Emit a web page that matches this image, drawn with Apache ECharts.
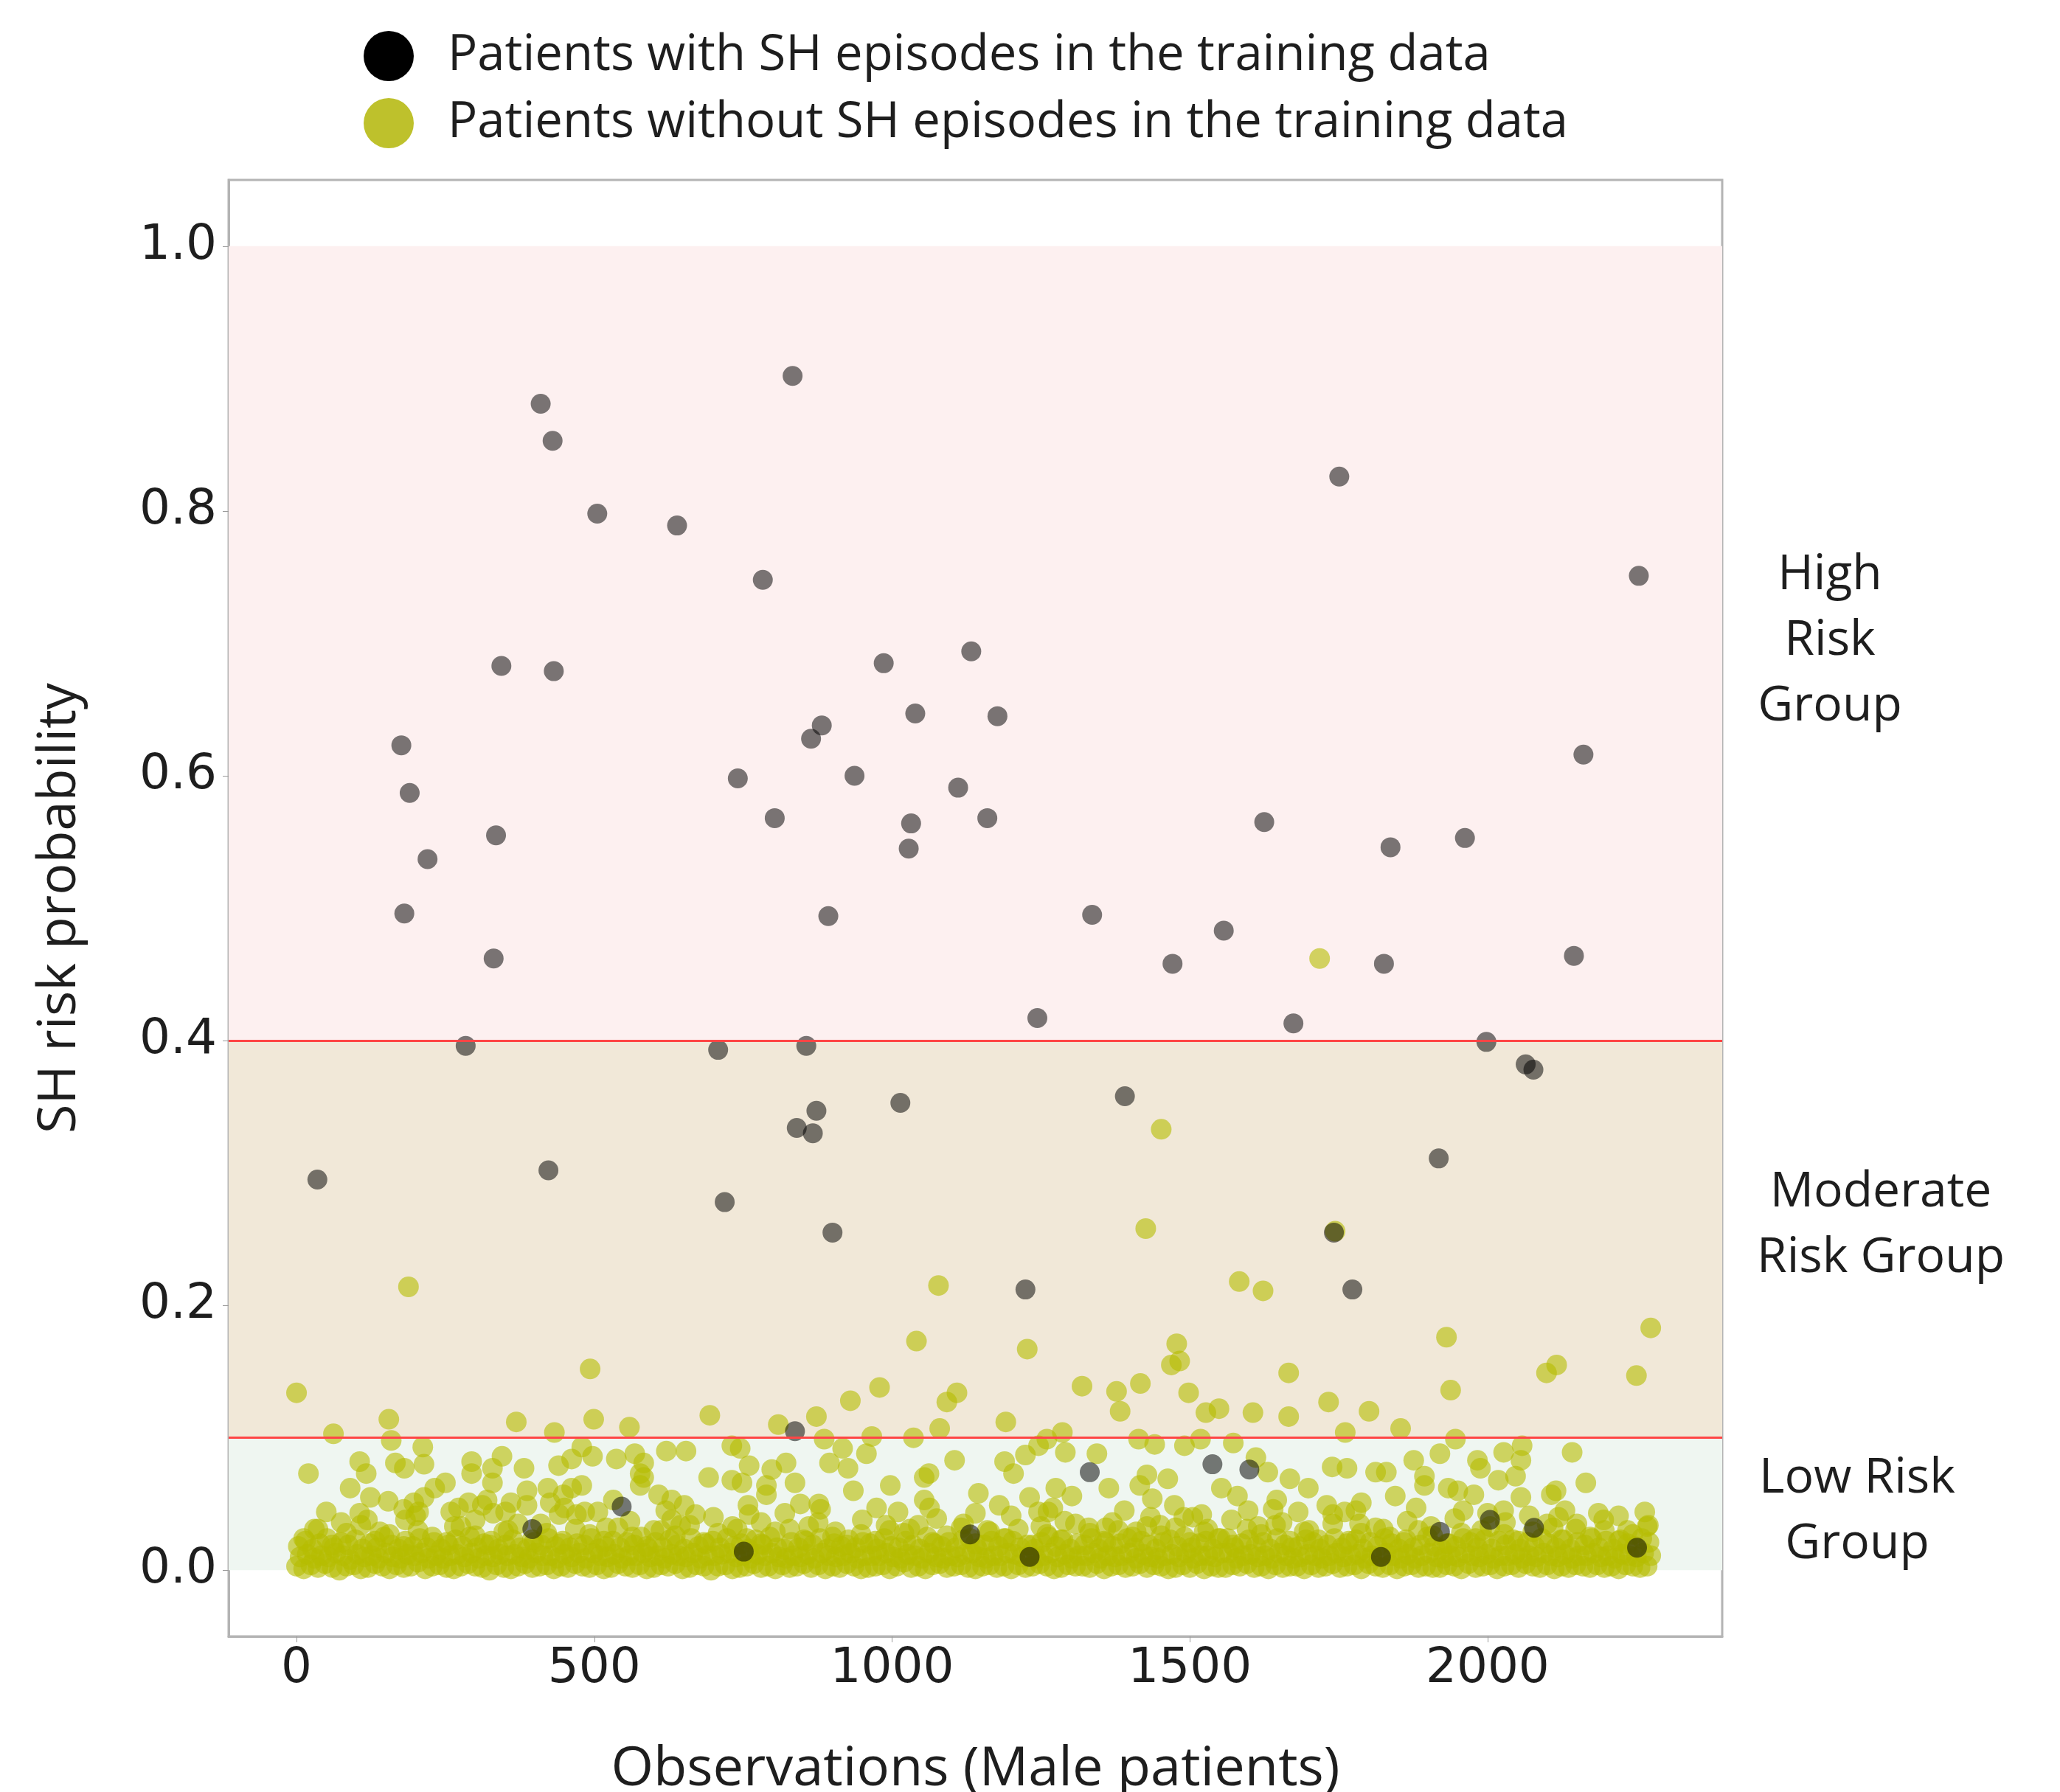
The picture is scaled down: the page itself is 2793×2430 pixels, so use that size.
<!DOCTYPE html>
<html>
<head>
<meta charset="utf-8">
<title>SH risk probability - male patients</title>
<script src="https://cdn.jsdelivr.net/npm/echarts@6/dist/echarts.min.js"></script>
<style>
    html, body { margin: 0; padding: 0; background: #fff; }
    #chart { width: 2793px; height: 2430px; }
</style>
</head>
<body>
<div id="chart"></div>
<script>
// 图例名称
var nameSH = 'Patients with SH episodes in the training data';
var nameNo = 'Patients without SH episodes in the training data';

// 坐标轴刻度
var xTicks = [0, 500, 1000, 1500, 2000];
var yTicks = [0, 0.2, 0.4, 0.6, 0.8, 1.0];
// 风险分组阈值
var lowCut = 0.1;
var highCut = 0.4;

// patients with SH episodes (observation index, probability)
var shX = [35, 176, 190, 220, 181, 284, 335, 331, 344, 410, 430, 432, 423, 505, 639, 783, 833, 741, 803, 708,
    719, 864, 882, 937, 893, 856, 840, 867, 873, 900, 986, 1039, 1032, 1028, 1014, 1111, 1133, 1177, 1160, 1244,
    1224, 1336, 1391, 1471, 1557, 1625, 1674, 1751, 1742, 1773, 1837, 1826, 1918, 1962, 1998, 2064, 2077, 2145, 2161, 2254,
    837, 1332, 1538, 1600, 546, 396, 751, 1131, 1231, 1920, 2004, 2078, 1821, 2251];
var shY = [0.295, 0.623, 0.587, 0.537, 0.496, 0.396, 0.555, 0.462, 0.683, 0.881, 0.853, 0.679, 0.302, 0.798, 0.789, 0.748, 0.902, 0.598, 0.568, 0.393,
    0.278, 0.628, 0.638, 0.600, 0.494, 0.396, 0.334, 0.330, 0.347, 0.255, 0.685, 0.647, 0.564, 0.545, 0.353, 0.591, 0.694, 0.645, 0.568, 0.417,
    0.212, 0.495, 0.358, 0.458, 0.483, 0.565, 0.413, 0.826, 0.255, 0.212, 0.546, 0.458, 0.311, 0.553, 0.399, 0.382, 0.378, 0.464, 0.616, 0.751,
    0.105, 0.074, 0.080, 0.076, 0.048, 0.031, 0.014, 0.027, 0.010, 0.029, 0.038, 0.032, 0.010, 0.017];

// patients without SH episodes, above the low-risk cut
var noHiX = [1718, 1452, 1426, 188, 1078, 1583, 1623, 1744, 2274, 1931, 1041, 1227, 1478, 493, 2099, 2116, 2250, 1666, 1469, 1483,
    0, 1319, 1377, 1417, 1498, 1938, 979, 930, 1109, 1092, 1733, 1383, 1527, 1549, 1606, 1666, 1801, 694, 873, 1191,
    155, 369, 499, 559, 809, 1080, 1854, 62, 433, 1286, 1761, 159, 886, 966, 1036, 1260, 1946, 1414, 1518];
var noHiY = [0.462, 0.333, 0.258, 0.214, 0.215, 0.218, 0.211, 0.256, 0.183, 0.176, 0.173, 0.167, 0.171, 0.152, 0.149, 0.155, 0.147, 0.149, 0.155, 0.158,
    0.134, 0.139, 0.135, 0.141, 0.134, 0.136, 0.138, 0.128, 0.134, 0.127, 0.127, 0.120, 0.119, 0.122, 0.119, 0.116, 0.120, 0.117, 0.116, 0.112,
    0.114, 0.112, 0.114, 0.108, 0.110, 0.107, 0.107, 0.103, 0.104, 0.104, 0.104, 0.098, 0.099, 0.101, 0.100, 0.099, 0.099, 0.099, 0.099];

// patients without SH episodes, scattered in the low-risk band
var noLowX = [212, 20, 106, 117, 90, 124, 154, 166, 181, 214, 106, 119, 197, 250, 232, 214, 294, 294, 345, 329,
    382, 329, 289, 272, 320, 387, 387, 422, 440, 462, 479, 497, 537, 568, 577, 577, 462, 479, 448, 426,
    441, 532, 312, 351, 360, 259, 183, 205, 484, 506,
    621, 654, 583, 583, 731, 745, 760, 798, 822, 692, 731, 748, 789, 837, 789, 758, 846, 877, 608, 630,
    651, 670, 630, 895, 917, 926, 957, 935, 997, 974, 1054, 1062, 1054, 1105, 1145, 1180, 1189, 1204, 1224, 1231,
    1246, 1246, 1063,
    1291, 1344, 1441, 1491, 1573, 1611, 1631, 1668, 1739, 1764, 1812, 1830, 1876, 1894, 1920, 1428, 1463, 1275, 1302, 1364,
    1416, 1437, 1474, 1553, 1580, 1598, 1646, 1699, 1730, 1788, 1845, 1894, 1934, 1359, 1434, 1505, 1682, 1779, 1262,
    2027, 2058, 2056, 1983, 1988, 2018, 2047, 2142, 2165, 2115, 2107, 2056, 1950, 1977, 2264, 2186, 2027, 1959, 2119];
var noLowY = [0.093, 0.073, 0.082, 0.073, 0.062, 0.055, 0.052, 0.081, 0.077, 0.080, 0.043, 0.038, 0.051, 0.066, 0.062, 0.055, 0.082, 0.073, 0.086, 0.077,
    0.077, 0.066, 0.051, 0.047, 0.053, 0.060, 0.049, 0.062, 0.079, 0.084, 0.093, 0.086, 0.084, 0.088, 0.073, 0.064, 0.062, 0.064, 0.057, 0.051,
    0.042, 0.053, 0.049, 0.044, 0.051, 0.044, 0.038, 0.044, 0.044, 0.044,
    0.090, 0.090, 0.081, 0.070, 0.094, 0.092, 0.079, 0.076, 0.081, 0.070, 0.068, 0.066, 0.064, 0.066, 0.057, 0.049, 0.050, 0.050, 0.057, 0.053,
    0.049, 0.042, 0.038, 0.081, 0.092, 0.077, 0.088, 0.060, 0.064, 0.047, 0.070, 0.073, 0.053, 0.083, 0.058, 0.049, 0.082, 0.073, 0.087, 0.055,
    0.094, 0.044, 0.047,
    0.089, 0.088, 0.095, 0.094, 0.096, 0.085, 0.074, 0.069, 0.078, 0.077, 0.074, 0.074, 0.083, 0.071, 0.088, 0.072, 0.069, 0.062, 0.056, 0.062,
    0.064, 0.054, 0.049, 0.062, 0.056, 0.045, 0.053, 0.062, 0.049, 0.051, 0.056, 0.064, 0.062, 0.032, 0.040, 0.040, 0.044, 0.045, 0.044,
    0.089, 0.094, 0.083, 0.083, 0.077, 0.068, 0.071, 0.089, 0.066, 0.060, 0.057, 0.055, 0.060, 0.057, 0.044, 0.043, 0.045, 0.045, 0.040];

// just above the dense band (0.03 - 0.045)
var noEdgeX = [30, 75, 140, 200, 265, 300, 355, 410, 470, 520, 560, 600, 645, 700, 740, 780, 820, 860, 905, 950,
    990, 1030, 1075, 1120, 1160, 1200, 1250, 1290, 1330, 1370, 1410, 1450, 1490, 1530, 1570, 1615, 1655, 1700, 1740, 1785,
    1825, 1865, 1905, 1945, 1990, 2030, 2070, 2110, 2150, 2195, 2235, 2270, 50, 180, 330, 450, 620, 760, 880, 1010,
    1140, 1270, 1390, 1520, 1640, 1760, 1880, 2000, 2130, 2220];
var noEdgeY = [0.031, 0.036, 0.029, 0.041, 0.033, 0.038, 0.030, 0.035, 0.042, 0.032, 0.037, 0.030, 0.034, 0.040, 0.031, 0.036, 0.043, 0.033, 0.029, 0.038,
    0.034, 0.031, 0.039, 0.035, 0.030, 0.041, 0.033, 0.037, 0.032, 0.036, 0.029, 0.034, 0.040, 0.031, 0.038, 0.033, 0.036, 0.030, 0.042, 0.035,
    0.031, 0.037, 0.033, 0.039, 0.030, 0.036, 0.041, 0.032, 0.035, 0.038, 0.030, 0.034, 0.044, 0.046, 0.043, 0.047, 0.045, 0.042, 0.046, 0.044,
    0.043, 0.047, 0.045, 0.042, 0.046, 0.044, 0.047, 0.043, 0.045, 0.041];

// dense band near zero: one value per sampled observation
var baseStep = 12;
var baseLowY = [
    0.003, 0.001, 0.004, 0.002, 0.005, 0.002, 0.000, 0.003, 0.004, 0.001,
    0.002, 0.005, 0.003, 0.001, 0.004, 0.002, 0.003, 0.006, 0.001, 0.003,
    0.004, 0.002, 0.001, 0.003, 0.005, 0.003, 0.002, 0.000, 0.004, 0.002,
    0.001, 0.003, 0.005, 0.002, 0.003, 0.004, 0.001, 0.003, 0.002, 0.005,
    0.003, 0.002, 0.004, 0.001, 0.002, 0.005, 0.003, 0.002, 0.004, 0.001,
    0.002, 0.004, 0.003, 0.005, 0.001, 0.002, 0.004, 0.003, 0.000, 0.003,
    0.004, 0.001, 0.002, 0.003, 0.005, 0.002, 0.003, 0.001, 0.004, 0.002,
    0.003, 0.005, 0.002, 0.004, 0.001, 0.003, 0.002, 0.005, 0.003, 0.001,
    0.002, 0.003, 0.004, 0.001, 0.003, 0.006, 0.002, 0.003, 0.001, 0.004,
    0.005, 0.002, 0.003, 0.004, 0.002, 0.001, 0.003, 0.004, 0.002, 0.003,
    0.001, 0.004, 0.002, 0.003, 0.005, 0.003, 0.001, 0.002, 0.004, 0.003,
    0.003, 0.002, 0.005, 0.001, 0.003, 0.004, 0.002, 0.003, 0.005, 0.002,
    0.004, 0.003, 0.001, 0.002, 0.004, 0.002, 0.005, 0.001, 0.003, 0.002,
    0.002, 0.004, 0.003, 0.005, 0.002, 0.003, 0.001, 0.004, 0.002, 0.003,
    0.003, 0.001, 0.004, 0.002, 0.003, 0.005, 0.002, 0.003, 0.004, 0.001,
    0.005, 0.003, 0.002, 0.004, 0.001, 0.003, 0.004, 0.002, 0.003, 0.002,
    0.002, 0.004, 0.003, 0.001, 0.005, 0.002, 0.003, 0.004, 0.001, 0.003,
    0.004, 0.002, 0.005, 0.003, 0.002, 0.004, 0.001, 0.003, 0.002, 0.004,
    0.003, 0.002, 0.004, 0.002, 0.003, 0.001, 0.004, 0.003, 0.002, 0.003];
var baseMidY = [
    0.010, 0.012, 0.009, 0.011, 0.010, 0.013, 0.011, 0.008, 0.012, 0.010,
    0.011, 0.009, 0.013, 0.010, 0.009, 0.012, 0.011, 0.013, 0.009, 0.011,
    0.009, 0.011, 0.012, 0.010, 0.013, 0.009, 0.011, 0.010, 0.012, 0.011,
    0.012, 0.010, 0.009, 0.013, 0.011, 0.011, 0.009, 0.012, 0.010, 0.013,
    0.009, 0.013, 0.011, 0.010, 0.012, 0.009, 0.011, 0.011, 0.013, 0.010,
    0.011, 0.009, 0.012, 0.011, 0.010, 0.013, 0.009, 0.011, 0.011, 0.012,
    0.013, 0.010, 0.011, 0.009, 0.012, 0.011, 0.013, 0.010, 0.009, 0.011,
    0.010, 0.012, 0.009, 0.013, 0.011, 0.010, 0.011, 0.013, 0.009, 0.011,
    0.011, 0.011, 0.013, 0.010, 0.009, 0.012, 0.011, 0.009, 0.013, 0.010,
    0.009, 0.011, 0.010, 0.012, 0.013, 0.010, 0.009, 0.011, 0.011, 0.013,
    0.012, 0.010, 0.011, 0.009, 0.011, 0.013, 0.010, 0.012, 0.009, 0.011,
    0.011, 0.013, 0.009, 0.011, 0.010, 0.011, 0.013, 0.009, 0.012, 0.010,
    0.009, 0.011, 0.012, 0.010, 0.013, 0.009, 0.011, 0.011, 0.010, 0.013,
    0.013, 0.009, 0.011, 0.012, 0.010, 0.011, 0.009, 0.013, 0.011, 0.009,
    0.010, 0.012, 0.011, 0.009, 0.011, 0.013, 0.010, 0.011, 0.012, 0.009,
    0.011, 0.010, 0.013, 0.011, 0.009, 0.012, 0.009, 0.011, 0.013, 0.010,
    0.009, 0.011, 0.010, 0.013, 0.011, 0.010, 0.012, 0.009, 0.011, 0.011,
    0.012, 0.009, 0.011, 0.010, 0.013, 0.011, 0.010, 0.012, 0.009, 0.011,
    0.011, 0.013, 0.010, 0.011, 0.009, 0.012, 0.011, 0.010, 0.013, 0.011];
var baseUpY = [
    0.018, 0.022, 0.016, 0.020, 0.024, 0.017, 0.021, 0.019, 0.023, 0.016,
    0.020, 0.017, 0.025, 0.019, 0.016, 0.022, 0.018, 0.024, 0.017, 0.021,
    0.016, 0.019, 0.023, 0.018, 0.025, 0.017, 0.020, 0.022, 0.016, 0.019,
    0.023, 0.017, 0.016, 0.021, 0.019, 0.024, 0.018, 0.022, 0.017, 0.020,
    0.019, 0.024, 0.016, 0.018, 0.022, 0.017, 0.021, 0.019, 0.025, 0.016,
    0.021, 0.017, 0.023, 0.019, 0.016, 0.024, 0.018, 0.020, 0.022, 0.017,
    0.024, 0.018, 0.020, 0.016, 0.023, 0.019, 0.025, 0.017, 0.016, 0.021,
    0.017, 0.022, 0.019, 0.024, 0.016, 0.020, 0.018, 0.023, 0.017, 0.021,
    0.020, 0.016, 0.024, 0.018, 0.017, 0.022, 0.019, 0.016, 0.025, 0.020,
    0.018, 0.021, 0.017, 0.023, 0.024, 0.016, 0.019, 0.022, 0.018, 0.024,
    0.022, 0.017, 0.019, 0.016, 0.021, 0.025, 0.018, 0.023, 0.016, 0.020,
    0.019, 0.024, 0.016, 0.021, 0.018, 0.020, 0.024, 0.017, 0.022, 0.019,
    0.016, 0.021, 0.023, 0.018, 0.025, 0.017, 0.020, 0.022, 0.016, 0.024,
    0.024, 0.017, 0.020, 0.023, 0.018, 0.021, 0.016, 0.024, 0.019, 0.017,
    0.018, 0.023, 0.021, 0.016, 0.019, 0.024, 0.017, 0.022, 0.023, 0.016,
    0.021, 0.018, 0.024, 0.020, 0.016, 0.023, 0.017, 0.019, 0.025, 0.018,
    0.016, 0.020, 0.018, 0.024, 0.021, 0.017, 0.023, 0.016, 0.022, 0.019,
    0.023, 0.016, 0.021, 0.018, 0.024, 0.020, 0.017, 0.023, 0.016, 0.021,
    0.019, 0.024, 0.017, 0.022, 0.016, 0.023, 0.020, 0.018, 0.024, 0.021];
var baseTopY = [
    0.024, 0.031, 0.019, 0.028, 0.034, 0.022, 0.027, 0.018, 0.030, 0.025,
    0.021, 0.033, 0.026, 0.019, 0.029, 0.035, 0.023, 0.028, 0.020, 0.031,
    0.027, 0.022, 0.032, 0.025, 0.018, 0.030, 0.026, 0.034, 0.021, 0.028,
    0.033, 0.024, 0.020, 0.029, 0.031, 0.023, 0.036, 0.025, 0.019, 0.027,
    0.022, 0.030, 0.028, 0.034, 0.021, 0.026, 0.032, 0.020, 0.029, 0.024,
    0.031, 0.019, 0.027, 0.023, 0.035, 0.028, 0.022, 0.030, 0.025, 0.033,
    0.026, 0.032, 0.021, 0.029, 0.024, 0.019, 0.031, 0.027, 0.034, 0.022,
    0.029, 0.023, 0.035, 0.020, 0.028, 0.032, 0.025, 0.021, 0.030, 0.026,
    0.020, 0.028, 0.024, 0.033, 0.027, 0.022, 0.029, 0.035, 0.023, 0.031,
    0.025, 0.030, 0.022, 0.027, 0.033];

var colorNo = '#b5bc00';
var colorSH = '#000000';
var fontText = '"Open Sans", "DejaVu Sans", sans-serif';
var fontTick = '"DejaVu Sans", sans-serif';

function pairs(xs, ys) {
    var out = [];
    for (var i = 0; i < xs.length; i++) out.push([xs[i], ys[i]]);
    return out;
}

var noData = [];
for (var i = 0; i < baseLowY.length; i++) noData.push([i * baseStep, baseLowY[i]]);
for (var i = 0; i < baseMidY.length; i++) noData.push([i * baseStep + baseStep / 2, baseMidY[i]]);
for (var i = 0; i < baseUpY.length; i++) noData.push([i * baseStep + 3, baseUpY[i]]);
for (var i = 0; i < baseTopY.length; i++) noData.push([i * baseStep * 2 + baseStep, baseTopY[i]]);
noData = noData.concat(pairs(noEdgeX, noEdgeY), pairs(noLowX, noLowY), pairs(noHiX, noHiY));
var shData = pairs(shX, shY);

var myChart = echarts.init(document.getElementById('chart'));

myChart.setOption({
    backgroundColor: '#ffffff',
    animation: false,
    legend: {
        orient: 'vertical',
        left: 488,
        top: 37,
        itemWidth: 68,
        itemHeight: 68,
        itemGap: 23,
        icon: 'circle',
        textStyle: { fontFamily: fontText, fontSize: 67, color: '#1e1e1e', padding: [0, 0, 0, 41] },
        data: [
            { name: nameSH, itemStyle: { color: '#000000', opacity: 1 } },
            { name: nameNo, itemStyle: { color: '#bec12c', opacity: 1 } }
        ]
    },
    grid: {
        left: 310, right: 458, top: 244, bottom: 211,
        outerBoundsMode: 'none',
        show: true,
        borderColor: '#b4b4b4',
        borderWidth: 3,
        backgroundColor: 'transparent'
    },
    xAxis: {
        type: 'value',
        min: -114,
        max: 2394,
        name: 'Observations (Male patients)',
        nameLocation: 'middle',
        nameGap: 144,
        nameTextStyle: { fontFamily: fontText, fontSize: 74, color: '#1e1e1e' },
        splitLine: { show: false },
        axisLine: { show: true, onZero: false, lineStyle: { color: '#b4b4b4', width: 3 } },
        axisTick: { show: true, length: 8, customValues: xTicks, lineStyle: { color: '#999' } },
        axisLabel: {
            customValues: xTicks, margin: 12, fontFamily: fontTick, fontSize: 66, color: '#1e1e1e',
            formatter: function (v) { return String(v); }
        }
    },
    yAxis: {
        type: 'value',
        min: -0.05,
        max: 1.05,
        name: 'SH risk probability',
        nameLocation: 'middle',
        nameGap: 193,
        nameTextStyle: { fontFamily: fontText, fontSize: 72, color: '#1e1e1e' },
        splitLine: { show: false },
        axisLine: { show: true, onZero: false, lineStyle: { color: '#b4b4b4', width: 3 } },
        axisTick: { show: true, length: 8, customValues: yTicks, lineStyle: { color: '#999' } },
        axisLabel: {
            customValues: yTicks, margin: 16, fontFamily: fontTick, fontSize: 66, color: '#1e1e1e',
            formatter: function (v) { return v.toFixed(1); }
        }
    },
    graphic: [
        { type: 'text', x: 2481, y: 869, style: { text: 'High\nRisk\nGroup', align: 'center', verticalAlign: 'middle', font: '66px "Open Sans"', lineHeight: 89, fill: '#1e1e1e' } },
        { type: 'text', x: 2550, y: 1662, style: { text: 'Moderate\nRisk Group', align: 'center', verticalAlign: 'middle', font: '66px "Open Sans"', lineHeight: 89, fill: '#1e1e1e' } },
        { type: 'text', x: 2518, y: 2050, style: { text: 'Low Risk\nGroup', align: 'center', verticalAlign: 'middle', font: '66px "Open Sans"', lineHeight: 89, fill: '#1e1e1e' } }
    ],
    series: [
        {
            name: 'bands',
            type: 'scatter',
            data: [],
            silent: true,
            z: 1,
            markArea: {
                silent: true,
                data: [
                    [{ yAxis: highCut, itemStyle: { color: '#fdf0f0' } }, { yAxis: 1.0 }],
                    [{ yAxis: lowCut, itemStyle: { color: '#f1e8d8' } }, { yAxis: highCut }],
                    [{ yAxis: 0, itemStyle: { color: '#eff6f1' } }, { yAxis: lowCut }]
                ]
            },
            markLine: {
                silent: true,
                symbol: 'none',
                label: { show: false },
                lineStyle: { color: '#ff4545', width: 3, type: 'solid' },
                data: [{ yAxis: lowCut }, { yAxis: highCut }]
            }
        },
        {
            name: nameNo,
            type: 'scatter',
            symbolSize: 28,
            z: 3,
            itemStyle: { color: colorNo, opacity: 0.6 },
            data: noData
        },
        {
            name: nameSH,
            type: 'scatter',
            symbolSize: 27,
            z: 4,
            itemStyle: { color: colorSH, opacity: 0.52 },
            data: shData
        }
    ]
});
</script>
</body>
</html>
